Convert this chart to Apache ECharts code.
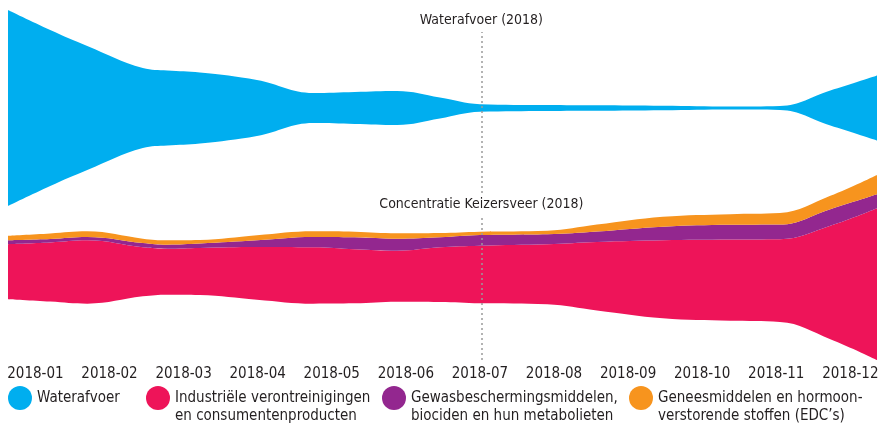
<!DOCTYPE html>
<html>
<head>
<meta charset="utf-8">
<script src="https://cdn.jsdelivr.net/npm/echarts@6/dist/echarts.min.js"></script>
<style>
  html, body { margin: 0; padding: 0; background: #fff; }
  #chart { width: 882px; height: 424px; }
</style>
</head>
<body>
<div id="chart"></div>
<script>
// maanden op de x-as
const maanden = ['2018-01', '2018-02', '2018-03', '2018-04', '2018-05', '2018-06',
  '2018-07', '2018-08', '2018-09', '2018-10', '2018-11', '2018-12'];
// meetmomenten (in maanden, 0 = 2018-01)
const meetmomenten = [-0.37, 0.2, 0.7, 1.45, 1.78, 2.22, 2.99, 3.75, 4.31, 4.88,
  5.46, 6.0, 6.91, 7.58, 8.47, 9.38, 10.05, 10.73, 11.36];

// bovenste stroom: waterafvoer
const waterafvoer = [196, 156, 124, 80, 75, 71, 56, 30, 32, 34,
  21, 7.7, 6, 5.5, 4.5, 3, 4, 35, 65];

// onderste stroom: concentratie Keizersveer
const industrie = [55, 59, 63.3, 49, 46, 47, 52.6, 56.3, 54, 51,
  54.7, 57.6, 60, 68.5, 78, 81.3, 82.7, 113.3, 151.7];
const gewasbescherming = [4, 3.6, 3.4, 4.4, 4, 4.3, 6.7, 10.4, 12, 12,
  10, 10.7, 10, 10.5, 13.6, 14.7, 14.7, 16.7, 14];
const geneesmiddelen = [4.3, 5.4, 5.6, 4.3, 4.3, 3.5, 5, 5.6, 5.6, 5.5,
  4.3, 3.3, 3.6, 7, 10, 10.7, 11.6, 13.3, 19.3];

const namen = {
  water: 'Waterafvoer',
  ind: 'Industriële verontreinigingen\nen consumentenproducten',
  gew: 'Gewasbeschermingsmiddelen,\nbiociden en hun metabolieten',
  gen: 'Geneesmiddelen en hormoon-\nverstorende stoffen (EDC’s)'
};

const kleuren = {
  water: '#00AEEF',
  ind: '#EE1459',
  gew: '#93278F',
  gen: '#F7941E'
};

const font = "'Liberation Sans Narrow', 'DejaVu Sans Condensed', 'Roboto', sans-serif";
const tekstKleur = '#231F20';

// middenlijnen van de twee stromen (in as-eenheden)
const middenBoven = 252;
const middenOnder = 92.5;

// waarde eerst, tijd daarna: dan stapelt echarts langs y (met twee value-assen anders langs x)
function pairs(values) {
  return meetmomenten.map((m, i) => [values[i], m]);
}

// basislijn zodat de stroom symmetrisch rond de middenlijn ligt
const basisBoven = waterafvoer.map(w => middenBoven - w / 2);
const basisOnder = industrie.map((v, i) => middenOnder - (v + gewasbescherming[i] + geneesmiddelen[i]) / 2);

function areaSeries(name, values, color, stack) {
  return {
    name: name,
    type: 'line',
    stack: stack,
    smooth: 0.4,
    symbol: 'none',
    color: color,
    lineStyle: { width: 0 },
    areaStyle: { color: color, opacity: 1 },
    encode: { x: 1, y: 0 },
    data: pairs(values)
  };
}

function baseSeries(values, stack) {
  return {
    name: 'basis-' + stack,
    type: 'line',
    stack: stack,
    smooth: 0.4,
    symbol: 'none',
    lineStyle: { width: 0, opacity: 0 },
    silent: true,
    encode: { x: 1, y: 0 },
    data: pairs(values)
  };
}

const xLijn = 6.02;
const lijnStijl = { color: '#9a9a9a', type: [2, 3], width: 1.5 };
const lijnLabel = { show: true, position: 'end', color: tekstKleur, fontFamily: font, fontSize: 14, distance: 5 };

const topSeries = baseSeries(basisBoven, 'boven');
topSeries.markLine = {
  silent: true,
  symbol: ['none', 'none'],
  animation: false,
  lineStyle: lijnStijl,
  data: [
    [{ coord: [xLijn, 167] }, { coord: [xLijn, 328], label: Object.assign({}, lijnLabel, { formatter: 'Waterafvoer (2018)' }) }],
    [{ coord: [xLijn, 0] }, { coord: [xLijn, 144], label: Object.assign({}, lijnLabel, { formatter: 'Concentratie Keizersveer (2018)' }) }]
  ]
};

function legend(name, left) {
  const twoLines = name.indexOf('\n') >= 0;
  return {
    data: [{ name: name }],
    left: left,
    top: twoLines ? 371 : 386,
    padding: 0,
    icon: 'circle',
    itemWidth: 24,
    itemHeight: 24,
    itemGap: 0,
    selectedMode: false,
    // lege eerste regel: het bolletje staat dan naast de eerste tekstregel
    formatter: n => (twoLines ? '\n' + n : n),
    textStyle: {
      color: tekstKleur,
      fontFamily: font,
      fontSize: 15,
      lineHeight: 18
    }
  };
}

const chart = echarts.init(document.getElementById('chart'));
chart.setOption({
  animation: false,
  backgroundColor: '#fff',
  grid: { left: 8, right: 5, top: 0, bottom: 64 },
  xAxis: {
    type: 'value',
    min: -0.37,
    max: 11.36,
    axisLine: { show: false },
    axisTick: { show: false },
    splitLine: { show: false },
    axisLabel: {
      customValues: maanden.map((m, i) => i),
      formatter: v => maanden[Math.round(v)],
      color: tekstKleur,
      fontFamily: font,
      fontSize: 15,
      margin: 7
    }
  },
  yAxis: {
    type: 'value',
    min: 0,
    max: 360,
    show: false
  },
  legend: [
    legend(namen.water, 8),
    legend(namen.ind, 146),
    legend(namen.gew, 382),
    legend(namen.gen, 629)
  ],
  series: [
    topSeries,
    areaSeries(namen.water, waterafvoer, kleuren.water, 'boven'),
    baseSeries(basisOnder, 'onder'),
    areaSeries(namen.ind, industrie, kleuren.ind, 'onder'),
    areaSeries(namen.gew, gewasbescherming, kleuren.gew, 'onder'),
    areaSeries(namen.gen, geneesmiddelen, kleuren.gen, 'onder')
  ]
});
</script>
</body>
</html>
